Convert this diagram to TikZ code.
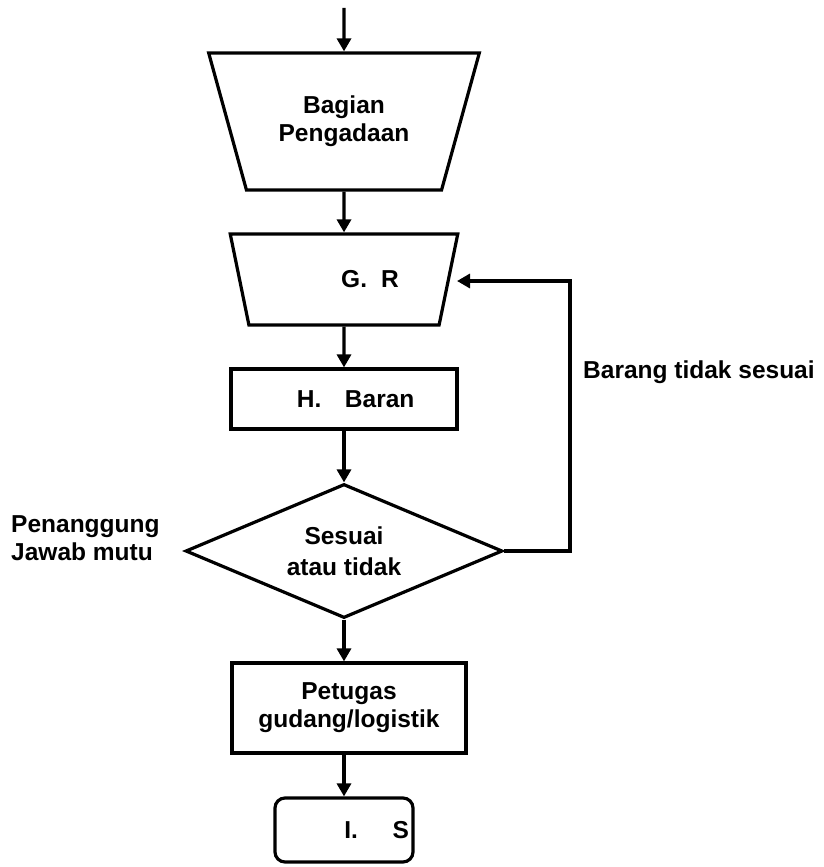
\documentclass[tikz,border=0pt]{standalone}
\usepackage{fontspec}
\setmainfont{Liberation Sans}
\usetikzlibrary{arrows.meta,shapes.geometric}
\begin{document}
\begin{tikzpicture}[x=1pt,y=-1pt,
  every node/.style={font=\bfseries\fontsize{24.5}{28}\selectfont},
  flow/.style={line width=3.2pt, -{Triangle[length=13pt,width=14pt]}},
  box/.style={draw, line width=3.2pt, inner sep=0pt, align=center},
  funnel/.style={box, trapezium, shape border rotate=180,
    trapezium stretches=true},
  label/.style={inner sep=0pt, align=left}
  ]
\useasboundingbox (0,0) rectangle (823,867);

% entry point and feedback route
\coordinate (start) at (344,8);
\coordinate (fbturn) at (570,281);
\coordinate (fbend) at (457,281);

% process chain
\node[funnel, trapezium left angle=63.6, trapezium right angle=63.6,
      minimum width=271pt, minimum height=137pt]
  (pengadaan) at (344,121.5) {Bagian\\Pengadaan};
\node[funnel, trapezium left angle=58.2, trapezium right angle=58.2,
      minimum width=228pt, minimum height=91pt]
  (gr) at (344,279.5) {\hspace*{52pt}G.\hspace{14pt}R};
\node[box, minimum width=226pt, minimum height=60pt]
  (baran) at (344,399) {\hspace*{23.4pt}H.\hspace{23.5pt}Baran};
\node[box, diamond, aspect=2.37, minimum width=317pt, minimum height=134pt]
  (cek) at (344,551) {Sesuai\\[3pt]atau tidak};
\node[box, minimum width=234pt, minimum height=90pt]
  (petugas) at (349,708) {Petugas\\gudang/logistik};
\node[box, rounded corners=10pt, minimum width=138pt, minimum height=64pt]
  (is) at (344,830) {\hspace*{65.4pt}I.\hspace{34.7pt}S};

% side labels
\node[label, anchor=base west] (tidaksesuai) at (583,378) {Barang tidak sesuai};
\node[label, anchor=west] (pj) at (11,538) {Penanggung\\Jawab mutu};

% connectors
\draw[flow] (start) -- (pengadaan.north);
\draw[flow] (pengadaan.south) -- (gr.north);
\draw[flow] (gr.south) -- (baran.north);
\draw[flow] (baran.south) -- (cek.north);
\draw[flow] (cek.south) -- (cek.south |- petugas.north);
\draw[flow] (is.north |- petugas.south) -- (is.north);
\draw[flow] (cek.east) -| (fbturn) -- (fbend);
\end{tikzpicture}
\end{document}
